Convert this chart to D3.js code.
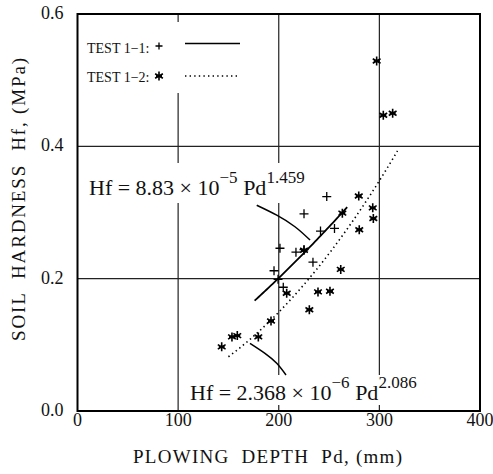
<!DOCTYPE html>
<html>
<head>
<meta charset="utf-8">
<script src="https://cdn.jsdelivr.net/npm/d3@7"></script>
<style>
  body { margin: 0; background: #fff; }
  text { font-family: "Liberation Serif", "Times New Roman", serif; fill: #111; }
</style>
</head>
<body>
<div id="chart"></div>
<script>

// tick values
var xTicks = [0, 100, 200, 300, 400];
var yTicks = [0.0, 0.2, 0.4, 0.6];

// TEST 1-1 (+)
var test1Depth = [247.7, 225.1, 255.4, 241.5, 201.2, 217.1, 225.1, 234.0, 195.3, 199.3, 204.5];
var test1Hard  = [0.324, 0.298, 0.276, 0.272, 0.246, 0.240, 0.244, 0.225, 0.212, 0.199, 0.187];

// TEST 1-2 (*)
var test2Depth = [297.3, 303.9, 313.2, 279.5, 263.2, 293.4, 294.0, 280.0, 225.1, 261.6,
                  207.9, 239.0, 250.9, 230.4, 192.3, 179.7, 158.8, 153.5, 143.3];
var test2Hard  = [0.529, 0.447, 0.450, 0.325, 0.299, 0.307, 0.291, 0.274, 0.243, 0.214,
                  0.178, 0.180, 0.181, 0.153, 0.136, 0.112, 0.114, 0.112, 0.097];

// fitted curves Hf = a * Pd^b, drawn over [from, to]
var fitCoef  = [8.83e-5, 2.368e-6];
var fitPow   = [1.459, 2.086];
var fitRange = [[176, 269], [150, 318]];

// leader lines from the equations to the curves (data units)
var leader1 = [[178.1, 0.311], [198.0, 0.296], [216.1, 0.2785], [231.1, 0.2584]];
var leader2 = [[171.4, 0.1023], [186.3, 0.0872], [198.0, 0.0721], [207.2, 0.0544]];

var W = 493, H = 474;
var margin = {top: 14, right: 13, bottom: 63, left: 77.5},
    width = W - margin.left - margin.right,
    height = H - margin.top - margin.bottom;

var svg = d3.select("#chart").append("svg")
    .attr("width", W)
    .attr("height", H)
    .append("g")
    .attr("transform", "translate(" + margin.left + "," + margin.top + ")");

var x = d3.scaleLinear().domain([0, 400]).range([0, width]);
var y = d3.scaleLinear().domain([0, 0.6]).range([height, 0]);

// grid
svg.selectAll(".vgrid")
    .data(xTicks.slice(1, -1))
    .enter().append("line")
    .attr("x1", function(d) { return x(d); })
    .attr("x2", function(d) { return x(d); })
    .attr("y1", 0).attr("y2", height)
    .style("stroke", "#222").style("stroke-width", 1.2);

svg.selectAll(".hgrid")
    .data(yTicks.slice(1, -1))
    .enter().append("line")
    .attr("x1", 0).attr("x2", width)
    .attr("y1", function(d) { return y(d); })
    .attr("y2", function(d) { return y(d); })
    .style("stroke", "#222").style("stroke-width", 1.2);

// white patches behind legend and equations
svg.append("rect").attr("x", x(5.5)).attr("y", 8).attr("width", 162).attr("height", 71).attr("fill", "#fff");
svg.append("rect").attr("x", x(7.5)).attr("y", 149).attr("width", 227).attr("height", 40).attr("fill", "#fff");
svg.append("rect").attr("x", x(107)).attr("y", 361).attr("width", 232).attr("height", 30).attr("fill", "#fff");

// frame
svg.append("rect")
    .attr("width", width).attr("height", height)
    .attr("fill", "none")
    .style("stroke", "#000").style("stroke-width", 2);

// tick labels
svg.selectAll(".xlab")
    .data(xTicks)
    .enter().append("text")
    .attr("x", function(d) { return x(d); })
    .attr("y", height + 15)
    .attr("text-anchor", "middle")
    .style("font-size", "18px")
    .text(function(d) { return d; });

svg.selectAll(".ylab")
    .data(yTicks)
    .enter().append("text")
    .attr("x", -14)
    .attr("y", function(d) { return y(d) + 5; })
    .attr("text-anchor", "end")
    .style("font-size", "18px")
    .text(function(d) { return d.toFixed(1); });

// axis titles
svg.append("text")
    .attr("x", 133 - margin.left)
    .attr("y", height + 52)
    .attr("textLength", 269)
    .attr("lengthAdjust", "spacing")
    .style("font-size", "19px")
    .style("white-space", "pre")
    .text("PLOWING  DEPTH  Pd, (mm)");

svg.append("text")
    .attr("transform", "translate(" + (25 - margin.left) + "," + (height / 2 - 13) + ") rotate(-90)")
    .attr("text-anchor", "middle")
    .attr("textLength", 283)
    .attr("lengthAdjust", "spacing")
    .style("font-size", "19px")
    .style("white-space", "pre")
    .text("SOIL  HARDNESS  Hf, (MPa)");

// fitted curves
var fitLine = d3.line()
    .x(function(d) { return x(d[0]); })
    .y(function(d) { return y(d[1]); });

fitCoef.forEach(function(a, i) {
    var pts = d3.range(fitRange[i][0], fitRange[i][1] + 0.1, 2).map(function(p) {
        return [p, a * Math.pow(p, fitPow[i])];
    });
    svg.append("path")
        .datum(pts)
        .attr("fill", "none")
        .style("stroke", "#000")
        .style("stroke-width", i === 0 ? 1.8 : 1.6)
        .style("stroke-dasharray", i === 0 ? null : "1.4,3.2")
        .attr("d", fitLine);
});

// leaders
var leaderLine = d3.line()
    .curve(d3.curveNatural)
    .x(function(d) { return x(d[0]); })
    .y(function(d) { return y(d[1]); });

[leader1, leader2].forEach(function(l) {
    svg.append("path")
        .datum(l)
        .attr("fill", "none")
        .style("stroke", "#000")
        .style("stroke-width", 1.5)
        .attr("d", leaderLine);
});

// markers
var plusPath = "M-4.5,0H4.5M0,-4.5V4.5";
var starPath = "M0,-4.5V4.5M-3.9,-2.25L3.9,2.25M-3.9,2.25L3.9,-2.25M-3,0H3";

svg.selectAll(".p1")
    .data(test1Depth)
    .enter().append("path")
    .attr("transform", function(d, i) { return "translate(" + x(d) + "," + y(test1Hard[i]) + ")"; })
    .attr("d", plusPath)
    .style("stroke", "#000").style("stroke-width", 1.3);

svg.selectAll(".p2")
    .data(test2Depth)
    .enter().append("path")
    .attr("transform", function(d, i) { return "translate(" + x(d) + "," + y(test2Hard[i]) + ")"; })
    .attr("d", starPath)
    .style("stroke", "#000").style("stroke-width", 1.6);

// legend
var legend = svg.append("g").attr("transform", "translate(" + (87 - margin.left) + ",0)");
legend.append("text").attr("x", 0).attr("y", 38.5)
    .style("font-size", "14px").style("white-space", "pre").text("TEST 1\u22121:");
legend.append("text").attr("x", 0).attr("y", 67.5)
    .style("font-size", "14px").style("white-space", "pre").text("TEST 1\u22122:");
legend.append("path").attr("transform", "translate(72,32)").attr("d", "M-3.5,0H3.5M0,-3.5V3.5")
    .style("stroke", "#000").style("stroke-width", 1.3);
legend.append("path").attr("transform", "translate(72,62)").attr("d", starPath)
    .style("stroke", "#000").style("stroke-width", 1.6);
legend.append("line").attr("x1", 98).attr("x2", 153).attr("y1", 29.5).attr("y2", 29.5)
    .style("stroke", "#000").style("stroke-width", 1.6);
legend.append("line").attr("x1", 98).attr("x2", 153).attr("y1", 62).attr("y2", 62)
    .style("stroke", "#000").style("stroke-width", 1.6).style("stroke-dasharray", "1.4,3.2");

// equations
function equation(px, py, parts) {
    var t = svg.append("text").attr("x", px).attr("y", py).style("font-size", "22px");
    parts.forEach(function(p) {
        t.append("tspan")
            .attr("dy", p.sup ? -12 : (p.back ? 12 : 0))
            .style("font-size", p.sup ? "17px" : "22px")
            .text(p.s);
    });
}
equation(89 - margin.left, 195 - margin.top, [
    {s: "Hf = 8.83 \u00d7 10"}, {s: "\u22125", sup: true}, {s: " Pd", back: true}, {s: "1.459", sup: true}
]);
equation(190 - margin.left, 400 - margin.top, [
    {s: "Hf = 2.368 \u00d7 10"}, {s: "\u22126", sup: true}, {s: " Pd", back: true}, {s: "2.086", sup: true}
]);

</script>
</body>
</html>
